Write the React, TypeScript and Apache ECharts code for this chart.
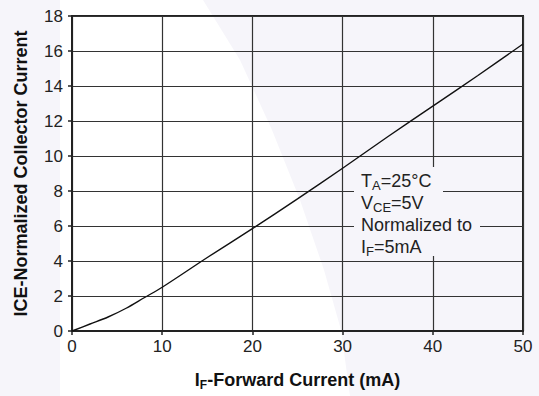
import React, { useEffect, useRef } from "react";
import * as echarts from "echarts";

const forwardCurrent = [0, 2, 4, 6, 8, 10, 15, 20, 25, 30, 35, 40, 45, 50];
const normalizedIce = [0, 0.4, 0.8, 1.3, 1.9, 2.5, 4.2, 5.85, 7.55, 9.3, 11.1, 12.85, 14.6, 16.4];
const xTicks = [0, 10, 20, 30, 40, 50];
const yTicks = [0, 2, 4, 6, 8, 10, 12, 14, 16, 18];

const FONT = "'Liberation Sans', Arial, Helvetica, sans-serif";
const BG = "#f6f5fa";

export default function App() {
  const ref = useRef<HTMLDivElement>(null);
  useEffect(() => {
    if (!ref.current) return;
    const chart = echarts.init(ref.current, null, { renderer: "svg" });
    const main = { fontSize: 18, lineHeight: 22, fontFamily: FONT, color: "#222" };
    const sub = { fontSize: 13, lineHeight: 13, verticalAlign: "bottom", fontFamily: FONT, color: "#222" };
    chart.setOption({
      animation: false,
      backgroundColor: BG,
      graphic: [
        {
          type: "polygon",
          z: -10,
          silent: true,
          shape: {
            points: [
              [60, 0], [203, 0], [240, 60], [272, 130], [300, 200], [324, 270], [341, 330], [350, 396], [60, 396],
            ],
          },
          style: { fill: "#ffffff" },
        },
        {
          type: "rect",
          z: 100,
          shape: { x: 354, y: 167, width: 89, height: 89 },
          style: { fill: BG },
        },
        {
          type: "rect",
          z: 100,
          shape: { x: 354, y: 216, width: 126, height: 20 },
          style: { fill: BG },
        },
        {
          type: "text",
          z: 101,
          x: 361,
          y: 170,
          style: {
            text: "{m|T}{s|A}{m|=25°C}\n{m|V}{s|CE}{m|=5V}\n{m|Normalized to}\n{m|I}{s|F}{m|=5mA}",
            verticalAlign: "top",
            align: "left",
            fontFamily: FONT,
            fontSize: 18,
            lineHeight: 22,
            fill: "#222",
            rich: { m: main, s: sub },
          },
        },
      ],
      grid: {
        left: 72,
        right: 16,
        top: 16,
        bottom: 64,
        show: true,
        borderColor: "#222",
        borderWidth: 2,
        backgroundColor: "transparent",
      },
      xAxis: {
        type: "value",
        min: xTicks[0],
        max: xTicks[xTicks.length - 1],
        interval: 10,
        name: "{b|I}{s|F}{b|-Forward Current (mA)}",
        nameLocation: "middle",
        nameGap: 38,
        nameTextStyle: {
          rich: {
            b: { fontSize: 18, fontWeight: "bold", fontFamily: FONT, color: "#111", lineHeight: 22 },
            s: { fontSize: 12, fontWeight: "bold", fontFamily: FONT, color: "#111", lineHeight: 12, verticalAlign: "bottom" },
          },
        },
        axisLine: { show: true, lineStyle: { color: "#222", width: 2 } },
        axisTick: { show: true, length: 4, lineStyle: { color: "#222", width: 1.5 } },
        axisLabel: { margin: 7, fontSize: 17, fontFamily: FONT, color: "#222" },
        splitLine: { show: true, lineStyle: { color: "#333", width: 1.2 } },
      },
      yAxis: {
        type: "value",
        min: yTicks[0],
        max: yTicks[yTicks.length - 1],
        interval: 2,
        name: "ICE-Normalized Collector Current",
        nameLocation: "middle",
        nameGap: 42,
        nameTextStyle: { fontSize: 18, fontWeight: "bold", fontFamily: FONT, color: "#111" },
        axisLine: { show: true, lineStyle: { color: "#222", width: 2 } },
        axisTick: { show: true, length: 4, lineStyle: { color: "#222", width: 1.5 } },
        axisLabel: { margin: 9, fontSize: 17, fontFamily: FONT, color: "#222" },
        splitLine: { show: true, lineStyle: { color: "#333", width: 1.2 } },
      },
      series: [
        {
          type: "line",
          data: forwardCurrent.map((x, i) => [x, normalizedIce[i]]),
          showSymbol: false,
          smooth: 0.3,
          lineStyle: { color: "#111", width: 1.4 },
          z: 5,
        },
      ],
    });
    return () => chart.dispose();
  }, []);
  return <div ref={ref} style={{ width: 539, height: 396, position: "absolute", left: 0, top: 0 }} />;
}
